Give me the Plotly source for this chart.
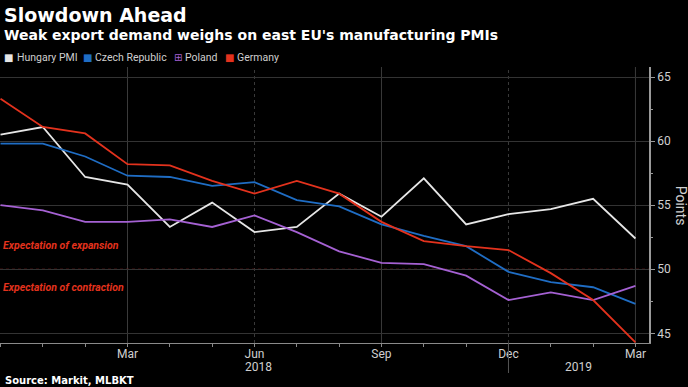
import plotly.graph_objects as go

months = ["Dec 2017", "Jan 2018", "Feb 2018", "Mar 2018", "Apr 2018", "May 2018", "Jun 2018",
          "Jul 2018", "Aug 2018", "Sep 2018", "Oct 2018", "Nov 2018", "Dec 2018",
          "Jan 2019", "Feb 2019", "Mar 2019"]
hungary = [60.5, 61.1, 57.2, 56.6, 53.3, 55.2, 52.9, 53.3, 55.9, 54.1, 57.1, 53.5, 54.3, 54.7, 55.5, 52.4]
czech = [59.8, 59.8, 58.8, 57.3, 57.2, 56.5, 56.8, 55.4, 54.9, 53.5, 52.6, 51.8, 49.8, 49.0, 48.6, 47.3]
poland = [55.0, 54.6, 53.7, 53.7, 53.9, 53.3, 54.2, 52.9, 51.4, 50.5, 50.4, 49.5, 47.6, 48.2, 47.6, 48.7]
germany = [63.3, 61.1, 60.6, 58.2, 58.1, 56.9, 55.9, 56.9, 55.9, 53.7, 52.2, 51.8, 51.5, 49.7, 47.6, 44.3]

series_names = ["Hungary PMI", "Czech Republic", "Poland", "Germany"]
series_values = [hungary, czech, poland, germany]
colors = ["#e6e6e6", "#1f6dc4", "#a561d3", "#e3321d"]
legend_symbols = ["■", "■", "⊞", "■"]
legend_sym_x = [8.7, 87.0, 177.5, 229.2]
legend_txt_x = [15.0, 92.7, 183.0, 234.7]

tick_idx = [3, 6, 9, 12, 15]
tick_labels = ["Mar", "Jun", "Sep", "Dec", "Mar"]
year_labels = ["2018", "2019"]
year_pos = [6.1, 13.65]

x = list(range(len(months)))
FONT = "Roboto"
BOLD = "DejaVu Sans"

W, H = 688, 387
L, R, T, B = 0, 39, 67, 44
pw, ph = W - L - R, H - T - B


def px(xp):
    return (xp - L) / pw


def py(yp):
    return 1 - (yp - T) / ph


fig = go.Figure()
for name, vals, c in zip(series_names, series_values, colors):
    fig.add_trace(go.Scatter(x=x, y=vals, mode="lines", name=name,
                             line=dict(color=c, width=1.8), showlegend=False,
                             customdata=months,
                             hovertemplate="%{customdata}: %{y}<extra>" + name + "</extra>"))

shapes = []
for t in tick_idx:
    dotted = t in (6, 12)
    shapes.append(dict(type="line", xref="x", yref="paper", x0=t, x1=t, y0=0, y1=1,
                       line=dict(color="#3a3a3a", width=1, dash="dot" if dotted else "solid"),
                       layer="below"))
shapes.append(dict(type="line", xref="x", yref="paper", x0=12, x1=12, y0=0, y1=py(373),
                   line=dict(color="#555555", width=1)))
shapes.append(dict(type="line", xref="paper", yref="y", x0=0, x1=1, y0=50, y1=50,
                   line=dict(color="#8a1c1c", width=1.2, dash="dot"), layer="below"))

annotations = []
for sym, name, c, sx, tx in zip(legend_symbols, series_names, colors, legend_sym_x, legend_txt_x):
    annotations.append(dict(x=px(sx), y=py(57), xref="paper", yref="paper", text=sym,
                            showarrow=False, xanchor="center", yanchor="middle",
                            font=dict(family="DejaVu Sans", size=10, color=c)))
    annotations.append(dict(x=px(tx), y=py(57.3), xref="paper", yref="paper", text=name,
                            showarrow=False, xanchor="left", yanchor="middle",
                            font=dict(family=FONT, size=10.5, color="#cfcfcf")))
for yl, yp in zip(year_labels, year_pos):
    annotations.append(dict(x=yp, y=py(366.5), xref="x", yref="paper", text=yl, showarrow=False,
                            xanchor="center", yanchor="middle",
                            font=dict(family=FONT, size=12, color="#cfcfcf")))
annotations.append(dict(x=px(1), y=py(245), xref="paper", yref="paper",
                        text="<b><i>Expectation of expansion</i></b>", showarrow=False,
                        xanchor="left", yanchor="middle",
                        font=dict(family=FONT, size=10.5, color="#e3321d")))
annotations.append(dict(x=px(1), y=py(287.3), xref="paper", yref="paper",
                        text="<b><i>Expectation of contraction</i></b>", showarrow=False,
                        xanchor="left", yanchor="middle",
                        font=dict(family=FONT, size=10.5, color="#e3321d")))
annotations.append(dict(x=px(681), y=py(205.7), xref="paper", yref="paper", text="Points",
                        showarrow=False, textangle=90, xanchor="center", yanchor="middle",
                        font=dict(family=FONT, size=14, color="#d0d0d0")))
annotations.append(dict(x=px(3), y=py(380.5), xref="paper", yref="paper",
                        text="<b>Source: Markit, MLBKT</b>", showarrow=False,
                        xanchor="left", yanchor="middle",
                        font=dict(family=BOLD, size=10, color="#ffffff")))
annotations.append(dict(x=px(2), y=py(15), xref="paper", yref="paper",
                        text="<b>Slowdown Ahead</b>", showarrow=False,
                        xanchor="left", yanchor="middle",
                        font=dict(family=BOLD, size=19, color="#ffffff")))
annotations.append(dict(x=px(2), y=py(35), xref="paper", yref="paper",
                        text="<b>Weak export demand weighs on east EU's manufacturing PMIs</b>",
                        showarrow=False, xanchor="left", yanchor="middle",
                        font=dict(family=BOLD, size=14, color="#ffffff")))

fig.update_layout(
    width=W, height=H,
    margin=dict(l=L, r=R, t=T, b=B),
    paper_bgcolor="#000000", plot_bgcolor="#000000",
    showlegend=False,
    shapes=shapes, annotations=annotations,
    font=dict(family=FONT, color="#d0d0d0"),
    xaxis=dict(range=[-0.012, 15.32], tickmode="array", tickvals=tick_idx, ticktext=tick_labels,
               showgrid=False, zeroline=False, showline=True, linecolor="#8a8a8a", linewidth=1,
               ticks="outside", ticklen=3, tickcolor="#8a8a8a", ticklabelstandoff=-3,
               minor=dict(dtick=1, tick0=0, ticks="outside", ticklen=3, tickcolor="#8a8a8a"),
               tickfont=dict(family=FONT, size=12, color="#cfcfcf")),
    yaxis=dict(side="right", range=[44.25, 65.78], tickmode="array", tickvals=[45, 50, 55, 60, 65],
               showgrid=True, gridcolor="#333333", gridwidth=1, zeroline=False,
               showline=True, linecolor="#9a9a9a", linewidth=1.5,
               ticks="outside", ticklen=4, tickcolor="#9a9a9a",
               minor=dict(tickvals=[47.5, 52.5, 57.5, 62.5], ticks="outside", ticklen=2, tickcolor="#9a9a9a"),
               tickfont=dict(family=FONT, size=12, color="#d0d0d0")),
)

fig.write_html("out.html", config={"displayModeBar": False},
               post_script="document.body.style.margin='0';document.body.style.background='#000';")
